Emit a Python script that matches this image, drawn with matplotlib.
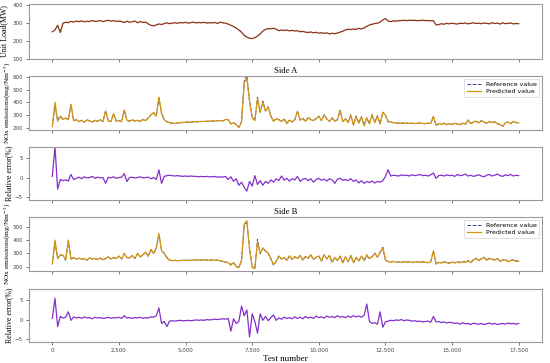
import numpy as np
import matplotlib
matplotlib.use("Agg")
from matplotlib import pyplot as plt
from matplotlib.ticker import FuncFormatter

step = 100

unit_load = [252, 262, 288, 248, 300, 305, 303, 310, 306, 312,
             308, 313, 307, 311, 309, 315, 310, 312, 314, 309,
             313, 316, 311, 314, 310, 312, 309, 303, 311, 305,
             308, 312, 302, 309, 304, 306, 296, 288, 285, 290,
             296, 292, 298, 302, 297, 300, 303, 299, 304, 301,
             305, 300, 303, 306, 301, 304, 302, 305, 300, 303,
             301, 304, 298, 306, 302, 300, 295, 288, 281, 272,
             262, 250, 232, 222, 216, 214, 219, 228, 240, 256,
             265, 270, 268, 272, 266, 258, 262, 259, 262, 257,
             260, 256, 258, 252, 254, 250, 248, 251, 246, 249,
             244, 247, 243, 246, 240, 244, 241, 245, 250, 255,
             262, 266, 264, 268, 265, 271, 268, 274, 282, 290,
             294, 298, 300, 306, 318, 326, 312, 309, 313, 311,
             314, 315, 316, 314, 317, 315, 316, 314, 315, 316,
             314, 315, 313, 314, 290, 292, 297, 294, 299, 296,
             300, 297, 295, 300, 298, 301, 296, 299, 302, 298,
             300, 297, 301, 299, 296, 303, 298, 300, 295, 302,
             297, 299, 301, 296, 298, 297]

nox_a = [210, 400, 250, 290, 265, 275, 262, 385, 255, 262,
         248, 258, 244, 262, 252, 246, 258, 250, 263, 248,
         330, 252, 248, 310, 250, 256, 248, 340, 258, 250,
         262, 252, 258, 250, 265, 255, 278, 300, 318, 290,
         440, 310, 262, 248, 240, 236, 234, 237, 240, 242,
         243, 245, 244, 246, 247, 248, 249, 250, 251, 252,
         252, 253, 255, 256, 254, 265, 262, 230, 238, 225,
         200, 245, 550, 590, 410, 280, 255, 430, 320, 400,
         330, 360, 290, 250, 270, 262, 250, 268, 232, 260,
         245, 262, 330, 258, 272, 250, 280, 262, 255, 270,
         290, 255, 300, 268, 250, 276, 250, 262, 335, 248,
         268, 240, 300, 220, 290, 235, 285, 215, 275, 230,
         300, 240, 290, 230, 320, 300, 250, 245, 240, 238,
         236, 238, 235, 237, 234, 236, 233, 235, 238, 234,
         232, 236, 233, 290, 220, 232, 228, 236, 225, 232,
         226, 235, 230, 224, 236, 228, 260, 232, 245, 252,
         238, 256, 244, 236, 250, 240, 248, 232, 225, 210,
         238, 245, 232, 250, 240, 238]

err_a = [0.3, 8.0, -3.0, -0.5, -0.8, -0.6, -0.9, 0.8, -0.5, -0.2,
         0.1, -0.3, 0.2, -0.1, 0.0, 0.3, -0.2, 0.1, -0.1, 0.0,
         -1.5, 0.1, -0.1, 0.2, -0.2, 0.0, 0.1, 1.0, -1.0, 0.0,
         0.1, -0.1, 0.0, 0.2, -0.1, 0.0, 0.1, -0.3, 0.0, -0.5,
         2.0, -1.5, 0.3, 0.5, 0.6, 0.5, 0.4, 0.5, 0.4, 0.3,
         0.4, 0.3, 0.4, 0.3, 0.3, 0.2, 0.3, 0.2, 0.3, 0.2,
         0.2, 0.3, 0.1, 0.2, 0.1, 0.3, -0.5, 0.2, -1.0, -0.3,
         -2.0, -1.2, -2.5, -3.5, -1.0, -2.2, 0.5, -1.8, -0.8, -2.0,
         -1.0, -1.5, -0.6, -1.2, -0.3, -0.8, 0.4, -0.7, -0.2, -0.9,
         -0.3, -0.6, 0.3, -1.0, -0.4, -0.2, -0.8, -0.3, -1.2, -0.5,
         -0.2, -0.7, -0.4, -0.9, -0.3, -0.6, -1.5, -0.4, -0.2, -0.7,
         -0.5, -0.8, -0.3, -1.0, -0.6, -1.4, -0.8, -1.5, -1.0, -1.3,
         -0.9, -1.4, -1.0, -1.2, -0.8, 0.3, 2.0, 0.4, 0.6, 0.5,
         0.4, 0.7, 0.5, 0.6, 0.4, 0.7, 0.5, 0.6, 0.8, 0.5,
         0.6, 0.4, 0.7, 1.2, -0.2, 0.5, 0.6, 0.4, 0.7, 0.5,
         0.6, 0.3, 0.8, 0.5, 0.6, 0.9, 0.4, 0.6, 0.3, 0.5,
         0.7, 0.4, 0.2, 0.6, 0.8, 0.4, 0.6, 0.9, 0.5, 0.3,
         0.7, 0.5, 0.8, 0.4, 0.6, 0.5]

nox_b = [220, 400, 260, 290, 285, 250, 400, 255, 270, 258,
         265, 255, 262, 250, 268, 258, 262, 255, 266, 252,
         262, 275, 258, 270, 262, 280, 258, 300, 270, 265,
         285, 262, 300, 275, 290, 310, 280, 330, 300, 340,
         450, 320, 300, 265, 250, 245, 248, 244, 246, 249,
         247, 250, 246, 252, 248, 251, 249, 253, 250, 248,
         252, 247, 250, 245, 240, 236, 230, 210, 232, 200,
         195, 250, 520, 545, 330, 200, 185, 390, 300, 340,
         320, 300, 260, 215, 240, 280, 258, 270, 248, 282,
         255, 276, 262, 285, 250, 278, 265, 290, 255, 272,
         280, 245, 290, 260, 285, 235, 270, 248, 280, 230,
         275, 240, 285, 232, 270, 245, 280, 250, 290, 260,
         275, 300, 270, 310, 340, 250, 238, 235, 240, 233,
         236, 232, 238, 234, 237, 231, 235, 238, 232, 236,
         233, 230, 236, 320, 220, 232, 228, 235, 230, 226,
         234, 228, 236, 230, 238, 232, 245, 230, 250, 262,
         245, 258, 268, 248, 262, 255, 250, 260, 240, 248,
         252, 238, 245, 250, 240, 242]

err_b = [0.3, 5.5, -1.8, 0.8, 0.4, 0.6, 2.0, -0.2, 0.7, 0.4,
         0.6, 0.3, 0.7, 0.4, 0.5, 0.2, 0.6, 0.4, 0.5, 0.3,
         0.4, 0.6, 0.3, 0.5, 0.4, 0.6, 0.3, 1.0, 0.4, 0.5,
         0.3, 0.5, 0.4, 0.6, 0.3, 0.5, 0.4, 0.7, 0.6, 1.0,
         3.0, -1.0, -0.5, -1.8, -0.4, -0.3, -0.4, -0.3, -0.2, -0.3,
         -0.3, -0.2, -0.3, -0.2, -0.1, -0.2, -0.1, -0.2, 0.0, -0.1,
         0.0, 0.1, 0.0, 0.1, 0.2, 0.1, 0.3, -3.0, 0.2, -1.0,
         -0.5, 3.5, 1.0, 2.5, -4.5, 1.5, -0.5, -3.5, 1.5, -0.2,
         0.8, -0.3, 0.5, 1.2, -0.2, 0.4, 0.1, 0.6, 0.3, 0.5,
         0.2, 0.7, 0.3, 0.6, 0.2, 0.8, 0.4, 0.6, 0.3, 0.9,
         0.5, 0.7, 0.4, 0.9, 0.6, 0.8, 0.5, 1.0, 0.6, 0.8,
         0.5, 0.9, 0.6, 1.0, 0.7, 0.9, 0.6, 1.1, 4.0, -0.5,
         -1.0, -0.8, -1.2, 2.0, -2.0, -0.6, -0.4, -0.2, -0.3, -0.1,
         -0.2, 0.0, -0.3, -0.1, -0.2, -0.4, -0.3, -0.5, -0.4, -0.6,
         -0.5, -0.4, -0.7, 0.8, -0.6, -0.5, -0.8, -0.6, -0.9, -0.7,
         -0.8, -1.0, -0.9, -1.2, -0.8, -1.1, -1.0, -1.3, -0.9, -1.1,
         -1.2, -1.0, -1.3, -1.1, -0.9, -1.2, -1.0, -1.3, -1.1, -1.0,
         -1.2, -0.9, -1.1, -1.0, -1.2, -1.0]

x_ticks = [0, 2500, 5000, 7500, 10000, 12500, 15000, 17500]

test_no = np.arange(len(unit_load)) * step
nox_a = np.array(nox_a, float)
nox_b = np.array(nox_b, float)
# reference = predicted / (1 + relative error)
ref_a = nox_a / (1 + np.array(err_a) / 100)
ref_b = nox_b / (1 + np.array(err_b) / 100)

plt.rcParams['mathtext.fontset'] = 'stix'
serif = ['Liberation Serif', 'DejaVu Serif']
lab_fs = 5.7

fig = plt.figure(figsize=(5.5, 3.63), dpi=100)
W, H = 550.0, 363.0
left, right = 29, 542
boxes = [(4, 59), (76, 130), (147, 200), (217, 271), (289, 342)]
axes = []
for top, bot in boxes:
    ax = fig.add_axes([left / W, 1 - bot / H, (right - left) / W, (bot - top) / H])
    axes.append(ax)

col_load = '#8a3214'
col_pred = '#d4950e'
col_ref = '#3040b0'
col_err = '#8330cc'

axes[0].plot(test_no, unit_load, color=col_load, lw=0.9)
axes[0].set_ylim(100, 407)
axes[0].set_yticks([100, 200, 300, 400])
axes[0].set_ylabel('Unit Load(MW)', family=serif, fontsize=lab_fs)
axes[0].yaxis.set_label_coords(-0.04, 0.5)

for ax, ref, pred, ttl, yl, yt in [(axes[1], ref_a, nox_a, 'Side A', (182, 606), [200, 300, 400, 500, 600]),
                                   (axes[3], ref_b, nox_b, 'Side B', (168, 573), [200, 300, 400, 500])]:
    ax.plot(test_no, ref, color=col_ref, lw=0.7, ls='--', label='Reference value')
    ax.plot(test_no, pred, color=col_pred, lw=0.9, label='Predicted value')
    ax.set_ylim(*yl)
    ax.set_yticks(yt)
    ax.set_title(ttl, family=serif, fontsize=6.2, pad=2)
    ax.set_ylabel('NOx emissions(mg/Nm$^{-3}$)', family=serif, fontsize=5.4)
    ax.yaxis.set_label_coords(-0.031, 0.5)
    leg = ax.legend(loc='upper right', fontsize=4.5, frameon=True, handlelength=2.2,
                    borderpad=0.4, labelspacing=0.3, fancybox=False)
    leg.get_frame().set_edgecolor('#cccccc')
    leg.get_frame().set_linewidth(0.5)

for ax, err in [(axes[2], err_a), (axes[4], err_b)]:
    ax.plot(test_no, err, color=col_err, lw=0.9)
    ax.set_ylim(-5.8, 7.9)
    ax.set_yticks([-5, 0, 5])
    ax.set_ylabel('Relative error(%)', family=serif, fontsize=lab_fs)
    ax.yaxis.set_label_coords(-0.031, 0.5)

for i, ax in enumerate(axes):
    ax.set_xlim(-875, 18375)
    ax.set_xticks(x_ticks)
    ax.xaxis.set_major_formatter(FuncFormatter(lambda v, p: '{:,.0f}'.format(v)))
    ax.tick_params(labelsize=4.0, length=2.5, width=0.5, colors='#444444', pad=2)
    for s in ax.spines.values():
        s.set_color('#9a9a9a')
        s.set_linewidth(0.8)
    if i < 4:
        ax.tick_params(axis='x', labelbottom=False)

axes[4].set_xlabel('Test number', family=serif, fontsize=6.5, labelpad=1)

fig.savefig('out.png', dpi=100)
